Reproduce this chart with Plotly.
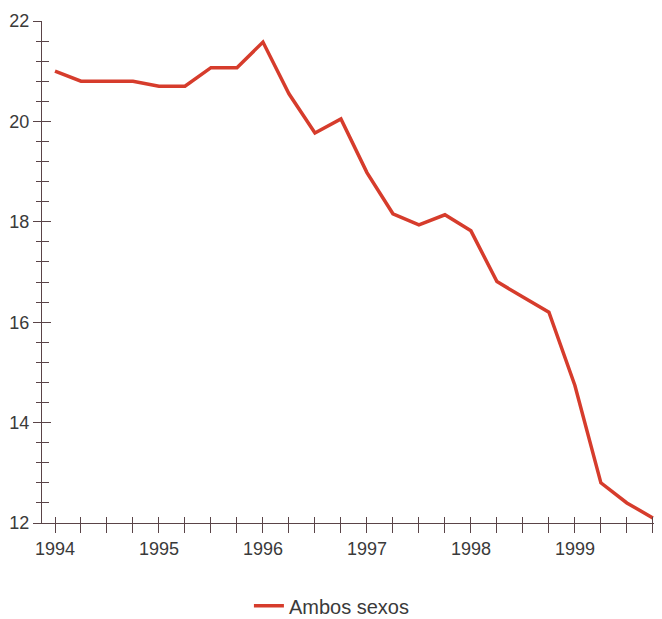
import plotly.graph_objects as go

# trimestres (año decimal) y valores
trimestres = [1994.0, 1994.25, 1994.5, 1994.75,
              1995.0, 1995.25, 1995.5, 1995.75,
              1996.0, 1996.25, 1996.5, 1996.75,
              1997.0, 1997.25, 1997.5, 1997.75,
              1998.0, 1998.25, 1998.5, 1998.75,
              1999.0, 1999.25, 1999.5, 1999.75]
ambos_sexos = [21.0, 20.8, 20.8, 20.8,
               20.7, 20.7, 21.07, 21.07,
               21.58, 20.55, 19.77, 20.05,
               18.98, 18.16, 17.94, 18.14,
               17.82, 16.81, 16.5, 16.2,
               14.74, 12.8, 12.4, 12.1]

anios = [1994, 1995, 1996, 1997, 1998, 1999]
y_ticks = [12, 14, 16, 18, 20, 22]

eje = '#5a4448'
texto = '#3a3a3a'
rojo = '#d63c2c'

x_vals = [1994 + 0.25 * i for i in range(24)]
x_text = [str(int(v)) if v in anios else '' for v in x_vals]
x_rango = [1993.875, 1999.78]
y_rango = [12, 22]

fig = go.Figure()
fig.add_trace(go.Scatter(x=trimestres, y=ambos_sexos, mode='lines', name='Ambos sexos',
                         line=dict(color=rojo, width=3.5)))
# traza invisible para los ejes superpuestos (marcas hacia dentro)
fig.add_trace(go.Scatter(x=[1995], y=[15], xaxis='x2', yaxis='y2', mode='markers',
                         marker=dict(opacity=0), showlegend=False, hoverinfo='skip'))

# la página html tiene 8 px de margen en el body
fig.update_layout(
    width=654, height=611,
    margin=dict(l=34, r=6, t=13, b=96, autoexpand=False),
    paper_bgcolor='white', plot_bgcolor='white',
    font=dict(family='Liberation Sans, Arial, sans-serif', size=18, color=texto),
    showlegend=True,
    legend=dict(orientation='h', x=0.337, xanchor='left', y=-0.165, yanchor='middle',
                font=dict(size=20, color=texto)),
    xaxis=dict(range=x_rango, tickvals=x_vals, ticktext=x_text, ticks='outside',
               ticklen=9, tickcolor=eje, tickwidth=1.3, showline=True, linecolor=eje,
               linewidth=1.3, showgrid=False, zeroline=False, automargin=False),
    yaxis=dict(range=y_rango, tickvals=y_ticks, ticks='outside', ticklen=8,
               tickcolor=eje, tickwidth=1.3, showline=True, linecolor=eje, linewidth=1.3,
               showgrid=False, zeroline=False, automargin=False,
               minor=dict(dtick=0.4, tick0=12, ticks='outside', ticklen=5,
                          tickcolor=eje, tickwidth=1.3, showgrid=False)),
    xaxis2=dict(range=x_rango, overlaying='x', anchor='y2', side='bottom',
                tickvals=x_vals, ticks='inside', ticklen=6, tickcolor=eje, tickwidth=1.3,
                showticklabels=False, showgrid=False, zeroline=False, showline=False,
                automargin=False),
    yaxis2=dict(range=y_rango, overlaying='y', anchor='x2', side='left',
                tickvals=y_ticks, ticks='inside', ticklen=9, tickcolor=eje, tickwidth=1.3,
                showticklabels=False, showgrid=False, zeroline=False, showline=False,
                automargin=False,
                minor=dict(dtick=0.4, tick0=12, ticks='inside', ticklen=7,
                           tickcolor=eje, tickwidth=1.3, showgrid=False)),
)

fig.write_html("out.html")
